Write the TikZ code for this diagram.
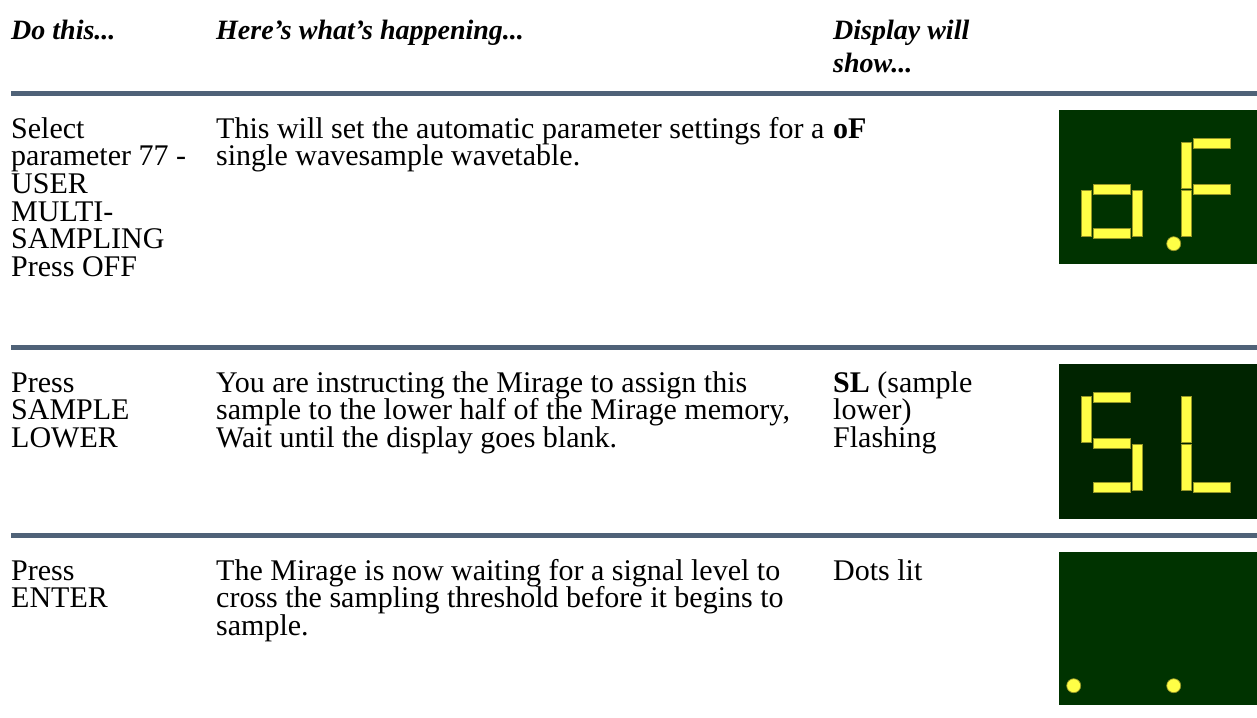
\documentclass[tikz,border=0pt]{standalone}
\usepackage{fontspec}
\setmainfont{Liberation Serif}
\definecolor{rulec}{RGB}{79,98,120}
\definecolor{lcd}{RGB}{0,51,0}
\definecolor{lcddark}{RGB}{0,36,0}
\definecolor{segf}{RGB}{255,255,70}
\definecolor{sege}{RGB}{150,150,40}
% multi-line cell: baseline = first line, fixed line pitch
\newcommand\cellt[1]{\vtop{\lineskiplimit=-100pt\lineskip=0pt\halign{##\hfil\cr#1\crcr}}}
% seven-segment pieces, relative to display top-left; #1 = digit x offset
\newcommand\segA[1]{\filldraw[segment] (34.3+#1,28) rectangle (71.7+#1,38);}
\newcommand\segB[1]{\filldraw[segment] (73.7+#1,32) rectangle (83.7+#1,78.3);}
\newcommand\segC[1]{\filldraw[segment] (73.7+#1,80.3) rectangle (83.7+#1,126.7);}
\newcommand\segD[1]{\filldraw[segment] (34.3+#1,118.7) rectangle (71.7+#1,128.7);}
\newcommand\segE[1]{\filldraw[segment] (22+#1,80.3) rectangle (32+#1,126.7);}
\newcommand\segF[1]{\filldraw[segment] (22+#1,32) rectangle (32+#1,78.3);}
\newcommand\segG[1]{\filldraw[segment] (34.3+#1,74.3) rectangle (71.7+#1,84.3);}
\newcommand\segDP[1]{\filldraw[segment] (14.7+#1,133.7) circle (7pt);}
\tikzset{
  body/.style={anchor=base west, inner sep=0pt, font=\fontsize{30}{27.7}\selectfont},
  head/.style={anchor=base west, inner sep=0pt, font=\fontsize{28}{32.5}\selectfont\bfseries\itshape},
  rulebar/.style={fill=rulec},
  segment/.style={fill=segf, draw=sege, line width=0.7pt},
}
\begin{document}
\begin{tikzpicture}[x=1pt,y=-1pt]
\useasboundingbox (0,0) rectangle (1257,717);
\fill[white] (0,0) rectangle (1257,717);

% header
\node[head] (h1) at (11,40) {Do this...};
\node[head] (h2) at (216,40) {Here's what's happening...};
\node[head] (h3) at (833,40) {\cellt{Display will\cr show...}};
\fill[rulebar] (11,91) rectangle (1257,96);

% row 1
\node[body] (r1a) at (11,138) {\cellt{Select\cr parameter 77 -\cr USER\cr MULTI-\cr SAMPLING\cr Press OFF}};
\node[body] (r1b) at (216,138) {\cellt{This will set the automatic parameter settings for a\cr single wavesample wavetable.}};
\node[body] (r1c) at (833,138) {\textbf{oF}};
\fill[lcd] (1059,110) rectangle (1257,264);
\begin{scope}[shift={(1059,110)}]
  \segG{0}\segC{0}\segD{0}\segE{0}
  \segA{100}\segF{100}\segE{100}\segG{100}
  \segDP{100}
\end{scope}
\fill[rulebar] (11,345) rectangle (1257,350);

% row 2
\node[body] (r2a) at (11,392) {\cellt{Press\cr SAMPLE\cr LOWER}};
\node[body] (r2b) at (216,392) {\cellt{You are instructing the Mirage to assign this\cr sample to the lower half of the Mirage memory,\cr Wait until the display goes blank.}};
\node[body] (r2c) at (833,392) {\cellt{\textbf{SL} (sample\cr lower)\cr Flashing}};
\fill[lcddark] (1059,364) rectangle (1257,519);
\begin{scope}[shift={(1059,364)}]
  \segA{0}\segF{0}\segG{0}\segC{0}\segD{0}
  \segF{100}\segE{100}\segD{100}
\end{scope}
\fill[rulebar] (11,533) rectangle (1257,538);

% row 3
\node[body] (r3a) at (11,580) {\cellt{Press\cr ENTER}};
\node[body] (r3b) at (216,580) {\cellt{The Mirage is now waiting for a signal level to\cr cross the sampling threshold before it begins to\cr sample.}};
\node[body] (r3c) at (833,580) {Dots lit};
\fill[lcd] (1059,552) rectangle (1257,705);
\begin{scope}[shift={(1059,552)}]
  \segDP{0}\segDP{100}
\end{scope}
\end{tikzpicture}
\end{document}
